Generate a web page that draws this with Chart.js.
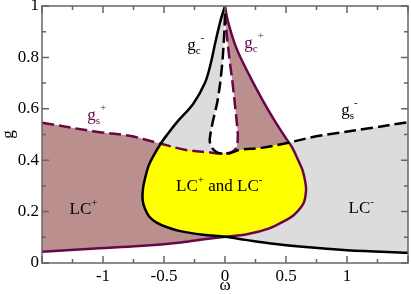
<!DOCTYPE html>
<html>
<head>
<meta charset="utf-8">
<script src="https://cdn.jsdelivr.net/npm/chart.js@4.4.0/dist/chart.umd.min.js"></script>
<style>
  html, body { margin: 0; padding: 0; background: #fff; }
</style>
</head>
<body>
<canvas id="myChart" width="411" height="294"></canvas>
<script>
// curves, as [omega, g]
// g_c- (black solid): from the top cusp, round the left fold, then out to the right
var gcMinus = [[0, 1], [-0.035, 0.946], [-0.08, 0.857], [-0.115, 0.78], [-0.165, 0.70], [-0.26, 0.62],
	[-0.39, 0.55], [-0.465, 0.505], [-0.525, 0.466], [-0.59, 0.414], [-0.625, 0.38], [-0.655, 0.33],
	[-0.672, 0.29], [-0.675, 0.245], [-0.655, 0.21], [-0.62, 0.18], [-0.56, 0.157], [-0.48, 0.14],
	[-0.375, 0.125], [-0.18, 0.11], [0, 0.102], [0.17, 0.09], [0.36, 0.077], [0.636, 0.063],
	[1.0, 0.05], [1.5, 0.04]];
// g_c+ (maroon solid): from the top cusp, round the right fold, then out to the left
var gcPlus = [[0, 1], [0.021, 0.946], [0.09, 0.84], [0.2, 0.73], [0.308, 0.634], [0.404, 0.556],
	[0.5, 0.485], [0.55, 0.45], [0.6, 0.40], [0.636, 0.36], [0.66, 0.31], [0.664, 0.28], [0.65, 0.24],
	[0.62, 0.215], [0.56, 0.185], [0.5, 0.167], [0.363, 0.135], [0.18, 0.112], [0, 0.102],
	[-0.17, 0.092], [-0.36, 0.08], [-0.7, 0.066], [-1.03, 0.057], [-1.5, 0.044]];
// g_s+ (maroon dashed): from the left edge down to the dip, then up the right side of the teardrop
var gsPlus = [[-1.5, 0.546], [-1.057, 0.511], [-0.784, 0.495], [-0.54, 0.466], [-0.32, 0.44],
	[-0.12, 0.43], [-0.04, 0.426], [0.03, 0.428], [0.08, 0.44], [0.10, 0.46], [0.105, 0.5],
	[0.10, 0.53], [0.085, 0.6], [0.062, 0.70], [0.035, 0.80], [0.012, 0.90], [0, 0.97]];
// g_s- (black dashed): from the top of the teardrop down its left side, then out to the right edge
var gsMinus = [[0, 0.97], [-0.006, 0.895], [-0.025, 0.764], [-0.06, 0.634], [-0.10, 0.55],
	[-0.12, 0.50], [-0.125, 0.475], [-0.11, 0.45], [-0.07, 0.432], [-0.02, 0.425], [0.04, 0.427],
	[0.12, 0.44], [0.3, 0.448], [0.5, 0.466], [0.72, 0.49], [0.91, 0.505], [1.18, 0.524], [1.5, 0.548]];

var maroon = "rgb(103,7,72)";
var brown = "rgb(188,143,143)";
var grey = "rgb(220,220,220)";
var serif = "'Liberation Serif', 'DejaVu Serif', serif";
var smooth = 0.35;

function xy(arr) {
	return arr.map(function (p) { return { x: p[0], y: p[1] }; });
}
function rev(arr) {
	return arr.slice().reverse();
}

// regions; the side edges run outside the frame so the smoothing bulges get clipped
var lcMinusArea = gcMinus.concat([[1.8, 0.035], [1.8, 0.56]], rev(gsMinus));
var lcPlusArea = gcPlus.concat([[-1.8, 0.04], [-1.8, 0.56]], gsPlus);
var bothArea = gcMinus.filter(function (p) { return p[0] <= 0 && p[1] < 0.47; })
	.concat(rev(gcPlus.filter(function (p) { return p[0] >= 0 && p[1] < 0.47; })))
	.concat(rev(gsMinus.filter(function (p) { return p[0] >= 0 && p[0] <= 0.53 && p[1] < 0.47; })))
	.concat(rev(gsPlus.filter(function (p) { return p[0] <= 0 && p[0] >= -0.55 && p[1] < 0.47; })));

function area(data, color, order) {
	return { data: xy(data), showLine: true, fill: "shape", backgroundColor: color, tension: smooth,
		borderColor: "transparent", borderWidth: 0, pointRadius: 0, order: order };
}
function curve(data, color, dash, order) {
	return { data: xy(data), showLine: true, fill: false, borderColor: color, borderWidth: 2.5,
		borderDash: dash, tension: smooth, pointRadius: 0, order: order };
}

// text drawn in pieces so that sub- and superscripts can be shifted
function rich(ctx, x, y, parts, align) {
	var w = 0;
	parts.forEach(function (p) {
		ctx.font = p[1] + "px " + serif;
		w += ctx.measureText(p[0]).width;
	});
	var cx = align === "center" ? x - w / 2 : x;
	parts.forEach(function (p) {
		ctx.font = p[1] + "px " + serif;
		ctx.fillText(p[0], cx, y + p[2]);
		cx += ctx.measureText(p[0]).width;
	});
}

var decor = {
	id: "decor",
	afterDatasetsDraw: function (chart) {
		var ctx = chart.ctx;
		var a = chart.chartArea;
		var xs = chart.scales.x;
		var ys = chart.scales.y;
		ctx.save();
		ctx.strokeStyle = "#666";
		ctx.lineWidth = 1.5;
		ctx.beginPath();
		var xt = xs.ticks.map(function (t) { return t.value; });
		for (var i = 0; i < xt.length; i++) {
			var px = xs.getPixelForValue(xt[i]);
			ctx.moveTo(px, a.bottom); ctx.lineTo(px, a.bottom - 7);
			ctx.moveTo(px, a.top); ctx.lineTo(px, a.top + 7);
			if (i < xt.length - 1) {
				var mx = xs.getPixelForValue((xt[i] + xt[i + 1]) / 2);
				ctx.moveTo(mx, a.bottom); ctx.lineTo(mx, a.bottom - 4);
				ctx.moveTo(mx, a.top); ctx.lineTo(mx, a.top + 4);
			}
		}
		var yt = ys.ticks.map(function (t) { return t.value; });
		for (var j = 0; j < yt.length; j++) {
			var py = ys.getPixelForValue(yt[j]);
			ctx.moveTo(a.left, py); ctx.lineTo(a.left + 7, py);
			ctx.moveTo(a.right, py); ctx.lineTo(a.right - 7, py);
			if (j < yt.length - 1) {
				var my = ys.getPixelForValue((yt[j] + yt[j + 1]) / 2);
				ctx.moveTo(a.left, my); ctx.lineTo(a.left + 4, my);
				ctx.moveTo(a.right, my); ctx.lineTo(a.right - 4, my);
			}
		}
		ctx.stroke();
		ctx.strokeRect(a.left, a.top, a.right - a.left, a.bottom - a.top);

		ctx.textBaseline = "alphabetic";
		ctx.fillStyle = "#000";
		rich(ctx, xs.getPixelForValue(-1.16), ys.getPixelForValue(0.19), [["LC", 17, 0], ["+", 11, -8]], "center");
		rich(ctx, xs.getPixelForValue(-0.047), ys.getPixelForValue(0.28),
			[["LC", 17, 0], ["+", 11, -8], [" and LC", 17, 0], ["-", 11, -8]], "center");
		rich(ctx, xs.getPixelForValue(1.117), ys.getPixelForValue(0.196), [["LC", 17, 0], ["-", 11, -8]], "center");
		rich(ctx, xs.getPixelForValue(-0.31), ys.getPixelForValue(0.829), [["g", 17, 0], ["c", 11, 4], ["-", 11, -9]], "left");
		rich(ctx, xs.getPixelForValue(0.953), ys.getPixelForValue(0.576), [["g", 17, 0], ["s", 11, 4], ["-", 11, -9]], "left");
		ctx.fillStyle = maroon;
		rich(ctx, xs.getPixelForValue(-1.129), ys.getPixelForValue(0.556), [["g", 17, 0], ["s", 11, 4], ["+", 11, -9]], "left");
		rich(ctx, xs.getPixelForValue(0.158), ys.getPixelForValue(0.837), [["g", 17, 0], ["c", 11, 4], ["+", 11, -9]], "left");
		ctx.restore();
	},
};

var ctx = document.getElementById("myChart").getContext("2d");
var myChart = new Chart(ctx, {
	type: "scatter",
	data: {
		datasets: [
			curve(gcMinus, "#000", [], 0),
			curve(gsMinus, "#000", [12, 5], 1),
			curve(gcPlus, maroon, [], 2),
			curve(gsPlus, maroon, [12, 5], 3),
			area(bothArea, "#ffff00", 8),
			area(lcPlusArea, brown, 9),
			area(lcMinusArea, grey, 10),
		],
	},
	options: {
		responsive: false,
		animation: false,
		layout: { padding: { top: 6, right: 3, left: 0, bottom: 0 } },
		plugins: { legend: { display: false }, tooltip: { enabled: false } },
		scales: {
			x: {
				type: "linear",
				min: -1.5,
				max: 1.5,
				grid: { display: false, drawTicks: false },
				border: { display: false },
				ticks: {
					stepSize: 0.5,
					autoSkip: false,
					maxRotation: 0,
					padding: 3,
					color: "#000",
					font: { family: serif, size: 17 },
					callback: function (v) { return Math.abs(v) > 1.01 ? "" : String(v); },
				},
				title: { display: true, text: "ω", color: "#000", padding: 0, font: { family: serif, size: 17, lineHeight: 1 } },
				afterFit: function (s) { s.height = 31; s.paddingLeft = 0; s.paddingRight = 0; },
			},
			y: {
				type: "linear",
				min: 0,
				max: 1,
				grid: { display: false, drawTicks: false },
				border: { display: false },
				ticks: {
					stepSize: 0.2,
					padding: 3,
					color: "#000",
					font: { family: serif, size: 17 },
					callback: function (v) { return String(Math.round(v * 10) / 10); },
				},
				title: { display: true, text: "g", color: "#000", padding: 0, font: { family: serif, size: 17, lineHeight: 1 } },
				afterFit: function (s) { s.width = 42; s.paddingTop = 0; s.paddingBottom = 0; },
			},
		},
	},
	plugins: [decor],
});
</script>
</body>
</html>
